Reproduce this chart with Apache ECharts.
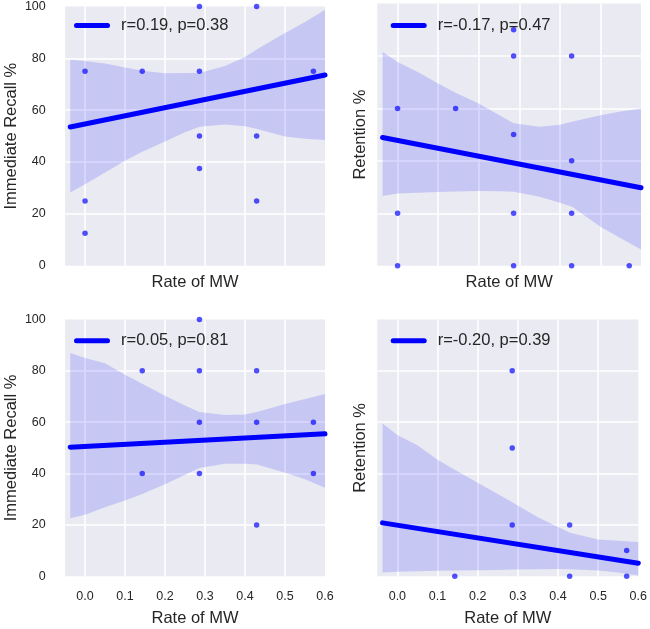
<!DOCTYPE html>
<html>
<head>
<meta charset="utf-8">
<script src="https://cdn.jsdelivr.net/npm/echarts@6/dist/echarts.min.js"></script>
<style>
html,body{margin:0;padding:0;background:#fff;}
#chart{width:650px;height:629px;}
</style>
</head>
<body>
<div id="chart"></div>
<script>
// ---------- data ----------
const xAxisTitle = "Rate of MW";
const yTitles = ["Immediate Recall %", "Retention %", "Immediate Recall %", "Retention %"];
const legendTexts = ["r=0.19, p=0.38", "r=-0.17, p=0.47", "r=0.05, p=0.81", "r=-0.20, p=0.39"];

// scatter points
const ptsAx = [0, 0, 0, 0.143, 0.286, 0.286, 0.286, 0.286, 0.429, 0.429, 0.429, 0.571];
const ptsAy = [75, 25, 12.5, 75, 100, 75, 50, 37.5, 100, 50, 25, 75];
const ptsBx = [0, 0, 0, 0.143, 0.286, 0.286, 0.286, 0.286, 0.286, 0.429, 0.429, 0.429, 0.429, 0.571];
const ptsBy = [60, 20, 0, 60, 90, 80, 50, 20, 0, 80, 40, 20, 0, 0];
const ptsCx = [0.143, 0.143, 0.286, 0.286, 0.286, 0.286, 0.429, 0.429, 0.429, 0.571, 0.571];
const ptsCy = [80, 40, 100, 80, 60, 40, 80, 60, 20, 60, 40];
const ptsDx = [0.143, 0.286, 0.286, 0.286, 0.429, 0.429, 0.571, 0.571];
const ptsDy = [0, 80, 50, 20, 20, 0, 10, 0];

// regression lines
const fitX = [-0.037, 0.6];
const fitAy = [53.5, 73.6];
const fitBy = [48.9, 29.7];
const fitCy = [50.3, 55.5];
const fitDy = [20.8, 5.1];

// confidence bands
const bandX = [-0.037, 0, 0.05, 0.1, 0.143, 0.2, 0.25, 0.286, 0.35, 0.4, 0.43, 0.5, 0.55, 0.6];
const bandAup = [79.5, 79, 78, 76.5, 75.2, 74.2, 74.3, 74.3, 77, 80.5, 83.5, 89.8, 94, 98.7];
const bandAlo = [28.2, 31.4, 36, 40.5, 44, 47.9, 51.5, 53.6, 54.5, 53.8, 52.7, 49.8, 49, 48.5];
const bandBup = [81.6, 77.7, 73.9, 69.5, 66, 61.9, 57.5, 54.3, 53, 53.8, 54.9, 57.4, 58.8, 60];
const bandBlo = [26.6, 27.5, 27.8, 28.1, 28.3, 28.5, 28.4, 28.2, 26.3, 24, 22.5, 14.9, 10.5, 6.2];
const bandCup = [87, 85, 83, 78.5, 75, 70.3, 66.5, 64, 62.8, 63, 64, 67.1, 69, 71];
const bandClo = [22.6, 24, 26.9, 29.5, 32, 35.8, 39.5, 42.2, 43.8, 43.8, 43.5, 40.3, 37.8, 34.5];
const bandDup = [59.5, 55, 51, 45.4, 41.5, 36.4, 32, 28.8, 23, 19.2, 17, 14.3, 13.8, 13.4];
const bandDlo = [1.5, 1.8, 2, 2.2, 2.3, 2.4, 2.5, 2.6, 2.7, 2.8, 2.7, 2.3, 1.5, 0.3];

const xMin = -0.05, xMax = 0.6;
const yMin = 0, yMax = 100, yStep = 20;

// ---------- layout / style ----------
const FONT = "'Liberation Sans', Arial, sans-serif";
const TXT = "#262626";
const grids = [
  {left: 60, top: 3.5, width: 265, height: 262.2},
  {left: 377.3, top: 3.5, width: 263.7, height: 262.2},
  {left: 60, top: 319.5, width: 265, height: 260.5},
  {left: 377.3, top: 319.5, width: 263.7, height: 260.5}
];
const panels = [
  {px: ptsAx, py: ptsAy, fy: fitAy, up: bandAup, lo: bandAlo},
  {px: ptsBx, py: ptsBy, fy: fitBy, up: bandBup, lo: bandBlo},
  {px: ptsCx, py: ptsCy, fy: fitCy, up: bandCup, lo: bandClo},
  {px: ptsDx, py: ptsDy, fy: fitDy, up: bandDup, lo: bandDlo}
];
const legendPos = [
  {left: 74, top: 15.5}, {left: 390.7, top: 15.5},
  {left: 74, top: 330.7}, {left: 390.7, top: 330.7}
];

const option = {
  backgroundColor: '#ffffff',
  animation: false,
  grid: grids.map(g => Object.assign({show: true, backgroundColor: '#EAEAF2', borderWidth: 0}, g)),
  xAxis: grids.map((g, i) => ({
    gridIndex: i, type: 'value', min: xMin, max: xMax, splitNumber: 5,
    name: xAxisTitle, nameLocation: 'middle', nameGap: i < 2 ? 7 : 31.7,
    nameTextStyle: {fontSize: 16.5, color: TXT, fontFamily: FONT, lineHeight: 20},
    axisLine: {show: false}, axisTick: {show: false},
    axisLabel: {show: i >= 2, showMinLabel: false, margin: 14, fontSize: 12.5, color: TXT, fontFamily: FONT,
      formatter: v => v.toFixed(1)},
    splitLine: {show: true, showMinLine: false, showMaxLine: false, lineStyle: {color: '#ffffff', width: 1.6}}
  })),
  yAxis: grids.map((g, i) => ({
    gridIndex: i, type: 'value', min: yMin, max: yMax, interval: yStep,
    name: yTitles[i], nameLocation: 'middle', nameRotate: 90, nameGap: (i % 2 === 0) ? 42.5 : 7,
    nameTextStyle: {fontSize: 16.5, color: TXT, fontFamily: FONT, lineHeight: 20},
    axisLine: {show: false}, axisTick: {show: false},
    axisLabel: {show: i % 2 === 0, margin: 19.3, fontSize: 12.5, color: TXT, fontFamily: FONT},
    splitLine: {show: true, showMinLine: false, showMaxLine: false, lineStyle: {color: '#ffffff', width: 1.6}}
  })),
  legend: legendPos.map((p, i) => ({
    data: [legendTexts[i]], left: p.left, top: p.top, padding: 0, selectedMode: false,
    itemWidth: 36, itemHeight: 5,
    icon: 'path://M2.5,0 L33.5,0 A2.5,2.5 0 0 1 33.5,5 L2.5,5 A2.5,2.5 0 0 1 2.5,0 Z',
    textStyle: {fontSize: 16.5, color: TXT, fontFamily: FONT, lineHeight: 20, padding: [0, 0, 0, 6]}
  })),
  series: []
};

panels.forEach((p, i) => {
  const up = p.up, lo = p.lo;
  option.series.push({
    type: 'custom', xAxisIndex: i, yAxisIndex: i, silent: true, z: 1,
    data: bandX.map((x, k) => [x, up[k], lo[k]]),
    encode: {x: 0, y: [1, 2]},
    renderItem: function (params, api) {
      if (params.dataIndex !== 0) return null;
      const pts = [];
      for (let k = 0; k < bandX.length; k++) pts.push(api.coord([bandX[k], up[k]]));
      for (let k = bandX.length - 1; k >= 0; k--) pts.push(api.coord([bandX[k], lo[k]]));
      return {type: 'polygon', shape: {points: pts}, style: {fill: 'rgba(0,0,255,0.15)', stroke: null}};
    }
  });
  option.series.push({
    type: 'scatter', xAxisIndex: i, yAxisIndex: i, z: 3, silent: true,
    symbolSize: 5.5,
    itemStyle: {color: 'rgba(0,0,255,0.85)'},
    data: p.px.map((x, k) => [x, p.py[k]])
  });
  option.series.push({
    type: 'line', name: legendTexts[i], xAxisIndex: i, yAxisIndex: i, z: 4, silent: true,
    showSymbol: false, symbol: 'none',
    color: '#0000FF',
    lineStyle: {color: '#0000FF', width: 5, cap: 'round'},
    data: fitX.map((x, k) => [x, p.fy[k]])
  });
});

const chart = echarts.init(document.getElementById('chart'), null, {renderer: 'canvas'});
chart.setOption(option);
</script>
</body>
</html>
